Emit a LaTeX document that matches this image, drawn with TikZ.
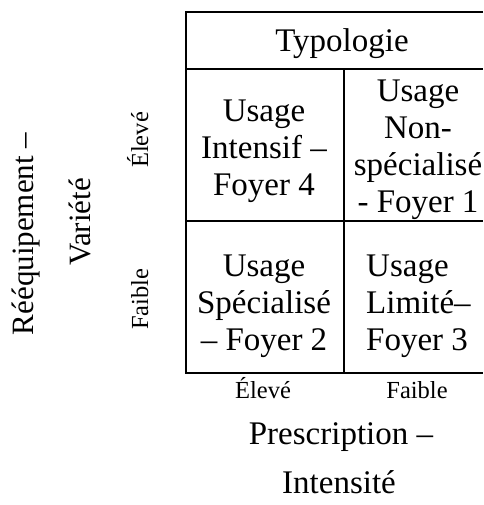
\documentclass[tikz,border=0pt]{standalone}
\usepackage{fontspec}
\setmainfont{Liberation Serif}
\begin{document}
\begin{tikzpicture}[x=1pt,y=-1pt,
  grid/.style={line width=2pt},
  cell/.style={font=\fontsize{33}{36.8}\selectfont, align=center, inner sep=0pt, anchor=north},
  title/.style={font=\fontsize{33}{36.8}\selectfont, inner sep=0pt, anchor=base},
  axis/.style={font=\fontsize{31}{36}\selectfont, inner sep=0pt, anchor=base},
  level/.style={font=\fontsize{24.5}{29}\selectfont, inner sep=0pt, anchor=base}]
\useasboundingbox (0,0) rectangle (483,505);
\fill[white] (0,0) rectangle (483,505);
% table frame
\coordinate (tl) at (186,12);
\coordinate (tr) at (483,12);
\coordinate (hl) at (186,69);
\coordinate (hr) at (483,69);
\coordinate (ml) at (186,221);
\coordinate (mr) at (483,221);
\coordinate (bl) at (186,373);
\coordinate (br) at (483,373);
\coordinate (dt) at (344,69);
\coordinate (db) at (344,373);
\draw[grid] (tr) -- (tl) -- (bl) -- (br);
\draw[grid] (hl) -- (hr);
\draw[grid] (ml) -- (mr);
\draw[grid] (dt) -- (db);
% header and cells
\node[title] (typ) at (342,51.5) {Typologie};
\node[cell] (c4) at (264,95.94) {\strut Usage\\\strut Intensif –\\\strut Foyer 4};
\node[cell] (c1) at (418,75.94) {\strut Usage\\\strut Non-\\\strut spécialisé\\\strut - Foyer 1};
\node[cell] (c2) at (264,250.94) {\strut Usage\\\strut Spécialisé\\\strut – Foyer 2};
\node[cell, align=left, anchor=north west] (c3) at (366,250.94) {\strut Usage\\\strut Limité–\\\strut Foyer 3};
% vertical axis
\node[axis, rotate=90] (vy1) at (33,234) {Rééquipement –};
\node[axis, rotate=90] (vy2) at (90,222) {Variété};
\node[level, rotate=90] (hy) at (148,140) {Élevé};
\node[level, rotate=90] (ly) at (148,299) {Faible};
% horizontal axis
\node[level] (hx) at (263,398) {Élevé};
\node[level] (lx) at (417,398) {Faible};
\node[title] (px1) at (341,444.5) {Prescription –};
\node[title] (px2) at (339,493.5) {Intensité};
\end{tikzpicture}
\end{document}
